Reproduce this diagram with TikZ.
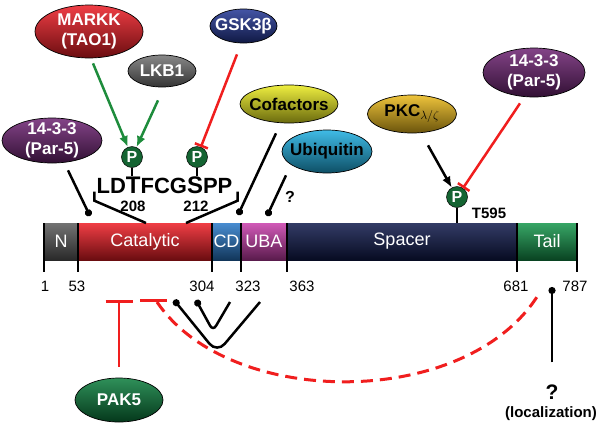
\documentclass[tikz,border=0pt]{standalone}
\usepackage{fontspec}
\setmainfont{Liberation Sans}
\usetikzlibrary{positioning}
\usetikzlibrary{shapes.geometric}
\usetikzlibrary{arrows.meta}
\definecolor{markkred}{RGB}{237, 28, 36}
\definecolor{lkbgray}{RGB}{115, 115, 115}
\definecolor{gskblue}{RGB}{35, 55, 150}
\definecolor{parpurple}{RGB}{110, 35, 115}
\definecolor{cofyellow}{RGB}{235, 235, 30}
\definecolor{ubicyan}{RGB}{30, 175, 225}
\definecolor{pkcgold}{RGB}{235, 185, 25}
\definecolor{pakgreen}{RGB}{10, 125, 60}
\definecolor{ngray}{RGB}{90, 90, 90}
\definecolor{cdblue}{RGB}{40, 120, 200}
\definecolor{ubamag}{RGB}{200, 60, 170}
\definecolor{spnavy}{RGB}{15, 25, 75}
\definecolor{tailgreen}{RGB}{20, 150, 75}
\definecolor{phosgreen}{RGB}{20, 100, 50}
\definecolor{actgreen}{RGB}{30, 140, 60}
\definecolor{inhred}{RGB}{240, 30, 30}

\begin{document}
\begin{tikzpicture}
  [
    x = 1pt, y = -1pt,
    tint/.style = {top color=#1!85!white, middle color=#1, bottom color=#1!45!black}
  ]
  \useasboundingbox (0,0) rectangle (600,424);
  \begin{scope}[mol/.style={ellipse,draw,line width=0.7pt,inner xsep=-22pt,inner ysep=-6pt,
                  align=center,font=\bfseries\fontsize{17}{20}\selectfont},
  			dom/.style={rectangle,inner sep=0pt,outer sep=0pt,minimum height=37pt,text=white,
  			  font=\fontsize{18}{18}\selectfont},
  			phos/.style={circle,draw=black,line width=0.5pt,fill=phosgreen,text=white,inner sep=0pt,
  			  minimum size=21pt,font=\bfseries\fontsize{16}{16}\selectfont},
  			resnum/.style={inner sep=0pt,font=\fontsize{15}{15}\selectfont},
  			site/.style={inner sep=0pt,font=\bfseries\fontsize{15}{15}\selectfont},
  			tick/.style={line width=2.5pt},
  			bond/.style={line width=2.5pt},
  			bind/.style={line width=2.5pt,-{Circle[length=7pt]}},
  			act/.style={draw=actgreen,line width=2.5pt,-{Latex[length=11pt,width=9pt]}},
  			inh/.style={draw=inhred,line width=2.5pt,-{Bar[width=14pt,line width=2.5pt]}}]
  % partners
  \node [mol, tint=markkred, text=white, minimum width=108pt, minimum height=53pt] (markk) at (89,31.5) {MARKK\\(TAO1)};
  \node [mol, tint=lkbgray, text=white, minimum width=68pt, minimum height=32pt] (lkb1) at (162,71) {LKB1};
  \node [mol, tint=gskblue, text=white, minimum width=67pt, minimum height=34pt] (gsk) at (243.5,26) {GSK3β};
  \node [mol, tint=parpurple, text=white, minimum width=100pt, minimum height=45pt] (parl) at (52,140.5) {14-3-3\\(Par-5)};
  \node [mol, tint=cofyellow, minimum width=98pt, minimum height=38pt] (cof) at (289,104) {Cofactors};
  \node [mol, tint=ubicyan, minimum width=90pt, minimum height=43pt] (ubi) at (327,151.5) {Ubiquitin};
  \node [mol, tint=pkcgold, minimum width=89pt, minimum height=38pt] (pkc) at (412,114) {PKC$_{\lambda/\zeta}$};
  \node [mol, tint=parpurple, text=white, minimum width=102pt, minimum height=49pt] (parr) at (534,72.5) {14-3-3\\(Par-5)};
  \node [mol, tint=pakgreen, text=white, minimum width=88pt, minimum height=44pt] (pak5) at (119,400) {PAK5};

  % domains
  \node [dom, tint=ngray, minimum width=34pt] (nterm) at (61,241.5) {N};
  \node [dom, tint=markkred, minimum width=134pt] (cat) [right=0pt of nterm] {Catalytic};
  \node [dom, tint=cdblue, minimum width=29pt] (cd) [right=0pt of cat] {CD};
  \node [dom, tint=ubamag, minimum width=46pt] (uba) [right=0pt of cd] {UBA};
  \node [dom, tint=spnavy, minimum width=230pt] (spacer) [right=0pt of uba] {Spacer};
  \node [dom, tint=tailgreen, minimum width=60pt] (tail) [right=0pt of spacer] {Tail};
  \draw [tick] (nterm.north west) -- ++(0,49);
  \foreach \d in {nterm,cat,cd,uba,spacer,tail}
    \draw [tick] (\d.north east) -- ++(0,49);
  \node [resnum] (r1) at (45,286) {1};
  \node [resnum] (r53) at (77,286) {53};
  \node [resnum] (r304) at (202,286) {304};
  \node [resnum] (r323) at (248,286) {323};
  \node [resnum] (r363) at (302,286) {363};
  \node [resnum] (r681) at (516,286) {681};
  \node [resnum] (r787) at (575,286) {787};

  % phospho sites
  \node [inner sep=0pt, font=\bfseries\fontsize{22}{22}\selectfont] (motif) at (164.5,185)
    {LD{\fontsize{24}{24}\selectfont T}FCG{\fontsize{24}{24}\selectfont S}PP};
  \node [phos] (p208) at (132,157) {P};
  \node [phos] (p212) at (197,157) {P};
  \node [phos] (p595) at (457,197) {P};
  \node [site] (s208) at (133,206) {208};
  \node [site] (s212) at (196,206) {212};
  \node [site] (t595) at (489,213) {T595};
  \draw [bond] (p208.south) -- ++(0,8);
  \draw [bond] (p212.south) -- ++(0,8);
  \draw [bond] (p595.south) -- (p595.south |- spacer.north);
  \draw [bond] ([shift={(-2,-2)}]motif.south west) -- ++(0,9) -- ([xshift=1pt]cat.north);
  \draw [bond] ([shift={(5,-2)}]motif.south east) -- ++(0,9) -- ([xshift=41pt]cat.north);

  % regulation
  \draw [act] ([shift={(4,5)}]markk.south) -- ([shift={(-9,-18)}]p208);
  \draw [act] ([shift={(-4,13)}]lkb1.south) -- ([shift={(5,-18)}]p208);
  \draw [inh] ([shift={(-6.5,11)}]gsk.south) -- ([shift={(0,-20)}]p212);
  \draw [act, draw=black] ([shift={(16,12)}]pkc.south) -- ([shift={(-5,-17)}]p595);
  \draw [inh] ([shift={(-14,6)}]parr.south) -- ([shift={(11,-19)}]p595);

  % binding
  \coordinate (site1) at (90,216);
  \coordinate (site2) at (238,215);
  \coordinate (site3) at (267,216);
  \draw [bind] ([shift={(16,7)}]parl.south) -- (site1);
  \draw [bind] ([shift={(-13,10)}]cof.south) -- (site2);
  \draw [bind] ([shift={(-41,2)}]ubi.south) -- (site3);
  \node [site, font=\bfseries\fontsize{16}{16}\selectfont] (q1) at (290,197) {?};

  % intramolecular
  \coordinate (catsite) at (119,300);
  \coordinate (kinsite) at (157,302);
  \coordinate (cterm) at (540,292);
  \draw [inh, -{Bar[width=27pt,line width=2.5pt]}] ([shift={(0,-11)}]pak5.north) -- (catsite);
  \draw [draw=inhred, line width=3pt, dash pattern=on 27pt off 10pt] (140,300) -- (167,300);
  \draw [draw=inhred, line width=3pt, dash pattern=on 12pt off 7pt] (kinsite) .. controls (230,410) and (470,410) .. (cterm);
  \draw [bond, {Circle[length=7pt]}-, rounded corners=6pt] (196,300) -- (213,331) -- (230,302);
  \draw [bond, {Circle[length=7pt]}-, rounded corners=12pt] (174,300) -- (217,353) -- (260,302);

  % localization
  \coordinate (tailsite) at (552,287);
  \node [site, font=\bfseries\fontsize{21}{21}\selectfont] (q2) at (552,392) {?};
  \node [site] (loc) at (551,414) {(localization)};
  \draw [bind] ([shift={(0,-22)}]q2.north) -- (tailsite);
  \end{scope}
\end{tikzpicture}
\end{document}
